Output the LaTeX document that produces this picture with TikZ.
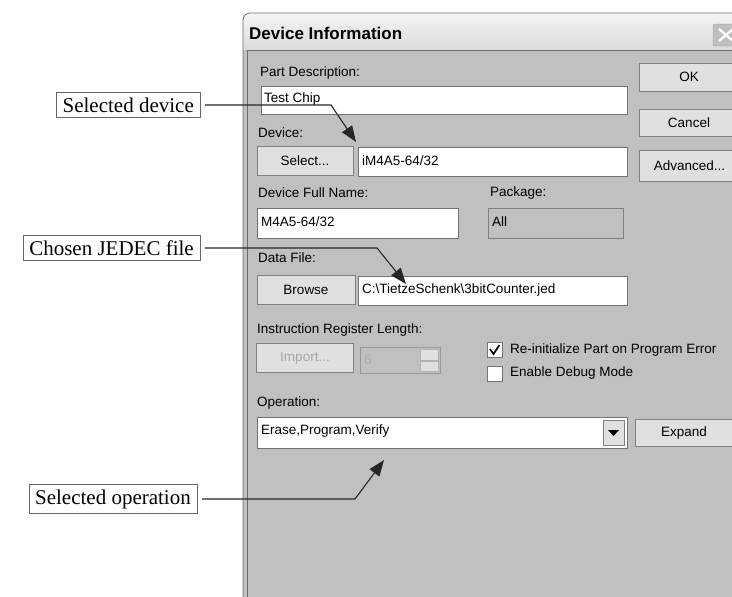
\documentclass[tikz,border=0pt]{standalone}
\usepackage{fontspec}
\setmainfont{Liberation Serif}
\setsansfont{Liberation Sans}
\usetikzlibrary{arrows.meta, positioning}
\definecolor{DlgGray}{HTML}{C0C0C0}
\definecolor{BtnFace}{HTML}{E0E0E0}
\definecolor{FrameGray}{HTML}{6E6E6E}

\begin{document}
\begin{tikzpicture}[x=1pt, y=-1pt,
  dlg/.style={font=\sffamily\fontsize{13.5}{15}\selectfont, inner sep=0pt, anchor=west},
  btn/.style={draw=black!50, fill=BtnFace, line width=0.9pt, inner sep=0pt, font=\sffamily\fontsize{13.5}{15}\selectfont},
  field/.style={draw=black!55, fill=white, line width=1pt},
  callout/.style={draw=black!60, fill=white, anchor=east, inner xsep=6pt, inner ysep=5pt, font=\fontsize{21}{24}\selectfont},
  arr/.style={-{Triangle[length=16pt, width=12pt]}, line width=1.1pt, black!85},
]
\clip (0,0) rectangle (732,597);
\fill[white] (0,0) rectangle (732,597);

% dialog window
\fill[DlgGray, rounded corners=7pt] (243,13) rectangle (760,640);
\shade[top color=gray!8, bottom color=gray!35, rounded corners=7pt] (243,13) rectangle (760,62);
\fill[DlgGray] (243,50) rectangle (760,62);
\draw[FrameGray, line width=0.8pt, rounded corners=7pt] (243,640) -- (243,13) -- (760,13);
\draw[FrameGray, line width=0.8pt] (247,50) -- (247,640) (247,50) -- (760,50);
\node[font=\sffamily\bfseries\fontsize{17}{19}\selectfont, anchor=west, inner sep=0pt] (title) at (249,33) {Device Information};
\draw[fill=gray!50, draw=gray!75, rounded corners=2pt] (713,24) rectangle (745,46);
\draw[white, line width=2.2pt] (719,29) -- (733,41) (719,41) -- (733,29);

% labels
\node[dlg] (lpart) at (260,73) {Part Description:};
\node[dlg] (ldev) at (258,133) {Device:};
\node[dlg] (lfull) at (258,193) {Device Full Name:};
\node[dlg] (lpkg) at (490,193) {Package:};
\node[dlg] (ldata) at (258,258) {Data File:};
\node[dlg] (linstr) at (257,330) {Instruction Register Length:};
\node[dlg] (lop) at (257,403) {Operation:};

% fields
\draw[field] (261,86) rectangle (627,114);
\node[dlg] (partdesc) at (264,99) {Test Chip};
\draw[field] (358,147) rectangle (627,176);
\node[dlg] (device) at (362,161) {iM4A5-64/32};
\draw[field] (257,208) rectangle (458,238);
\node[dlg] (fullname) at (261,222) {M4A5-64/32};
\draw[draw=black!50, fill=DlgGray, line width=1pt] (488,208) rectangle (623,238);
\node[dlg] (package) at (492,222) {All};
\draw[field] (358,276) rectangle (627,305);
\node[dlg] (datafile) at (362,290) {C:\textbackslash TietzeSchenk\textbackslash 3bitCounter.jed};
\draw[draw=black!40, fill=DlgGray, line width=1pt] (360,347) rectangle (440,373);
\node[dlg, text=gray!65] (irlen) at (364,360) {6};
\draw[fill=BtnFace, draw=gray!60] (420,349) rectangle (438,360) (420,361) rectangle (438,371);
\draw[field] (257,417) rectangle (627,448);
\node[dlg] (operation) at (261,431) {Erase,Program,Verify};
\draw[btn] (603,420) rectangle (624,445);
\fill (608,430) -- (619,430) -- (613.5,436) -- cycle;

% buttons
\node[btn, minimum width=96pt, minimum height=29pt] (select) at (305,161) {Select...};
\node[btn, minimum width=98pt, minimum height=29pt] (browse) at (306,290) {Browse};
\node[btn, minimum width=97pt, minimum height=29pt, text=gray!70] (import) at (305,358) {Import...};
\node[btn, minimum width=100pt, minimum height=28pt] (ok) at (689,77) {OK};
\node[btn, minimum width=100pt, minimum height=27pt] (cancel) at (689,123) {Cancel};
\node[btn, minimum width=100pt, minimum height=31pt, anchor=west] (advanced) at (639,166) {Advanced...};
\node[btn, minimum width=100pt, minimum height=27pt, anchor=west] (expand) at (635,433) {\hspace{-3pt}Expand\hspace{3pt}};

% check boxes
\draw[field] (487,342) rectangle (502,357);
\draw[line width=1.7pt] (490,349) -- (493.5,354) -- (499.5,345);
\node[dlg] (reinit) at (510,350) {Re-initialize Part on Program Error};
\draw[field] (487,366) rectangle (502,381);
\node[dlg] (debug) at (510,373) {Enable Debug Mode};

% callouts
\node[callout] (seldev) at (200,105) {Selected device};
\node[callout] (jedec) at (200,248) {Chosen JEDEC file};
\node[callout] (selop) at (197,499) {Selected operation};
\coordinate (c1) at (331,105);
\coordinate (t1) at (356,142);
\coordinate (c2) at (377,248);
\coordinate (t2) at (406,284);
\coordinate (c3) at (355,499);
\coordinate (t3) at (384,460);
\draw[arr] (seldev.east) ++(5,0) -- (c1) -- (t1);
\draw[arr] (jedec.east) ++(5,0) -- (c2) -- (t2);
\draw[arr] (selop.east) ++(5,0) -- (c3) -- (t3);
\end{tikzpicture}
\end{document}
